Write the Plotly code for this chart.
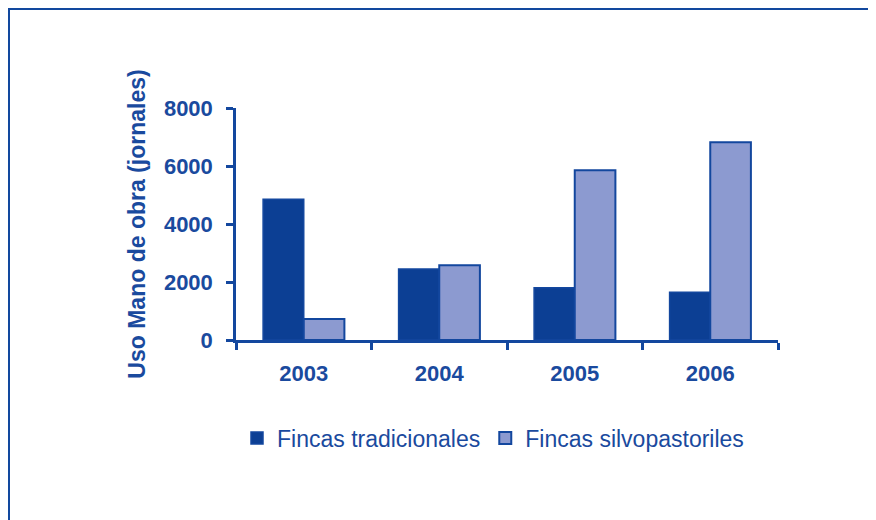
import plotly.graph_objects as go

years = ["2003", "2004", "2005", "2006"]
tradicionales = [4850, 2450, 1800, 1650]
silvopastoriles = [720, 2580, 5850, 6820]
series_names = ["Fincas tradicionales", "Fincas silvopastoriles"]
y_ticks = [0, 2000, 4000, 6000, 8000]
y_title = "Uso Mano de obra (jornales)"

DARK = "#0C3F94"
LIGHT = "#8C9AD0"
EDGE = "#13479E"
TEXT = "#1A4A9E"

W, H = 876, 520
OFF = 8  # page body margin
# plot area in page pixels: x 236..778, y 108..340
L = 236 - OFF
R = W - (778 - OFF)
T = 108 - OFF
B = H - (340 - OFF)

fig = go.Figure()
fig.add_trace(go.Bar(x=years, y=tradicionales, name=series_names[0],
                     marker=dict(color=DARK, line=dict(color=EDGE, width=1.5))))
fig.add_trace(go.Bar(x=years, y=silvopastoriles, name=series_names[1],
                     marker=dict(color=LIGHT, line=dict(color=EDGE, width=2))))

pw, ph = W - L - R, H - T - B
def px_x(p):  # figure pixel -> paper
    return (p - L) / pw
def px_y(p):
    return (H - B - p) / ph

# outer frame (left and top blue border)
fig.add_shape(type="path", xref="paper", yref="paper",
              path=f"M {px_x(0.5)} {px_y(540)} L {px_x(0.5)} {px_y(0.5)} L {px_x(900)} {px_y(0.5)}",
              line=dict(color="#12489E", width=3))

fig.update_layout(
    width=W, height=H,
    margin=dict(l=L, r=R, t=T, b=B, autoexpand=False),
    paper_bgcolor="white", plot_bgcolor="white",
    barmode="group", bargap=0.4, bargroupgap=0,
    font=dict(family="Liberation Sans, Arial, sans-serif", color=TEXT, size=21),
    showlegend=True,
    legend=dict(orientation="h", x=px_x(493 - OFF), xanchor="center", y=px_y(438 - OFF),
                yanchor="middle", font=dict(size=23, color=TEXT), itemwidth=30,
                tracegroupgap=0, bgcolor="rgba(0,0,0,0)"),
    xaxis=dict(showline=True, linecolor=EDGE, linewidth=2.5, ticks="outside",
               tickson="boundaries", ticklen=7, tickwidth=2.5, tickcolor=EDGE,
               showgrid=False, tickfont=dict(size=22, color=TEXT, weight="bold"),
               ticklabelstandoff=12),
    yaxis=dict(range=[0, 8000], tickvals=y_ticks, showline=True, linecolor=EDGE, linewidth=2.5,
               ticks="outside", ticklen=7, tickwidth=2.5, tickcolor=EDGE, showgrid=False,
               zeroline=False, tickfont=dict(size=22, color=TEXT, weight="bold"),
               ticklabelstandoff=9,
               title=dict(text=f"<b>{y_title}</b>", font=dict(size=23, color=TEXT), standoff=12)),
)

fig.write_html("out.html")
